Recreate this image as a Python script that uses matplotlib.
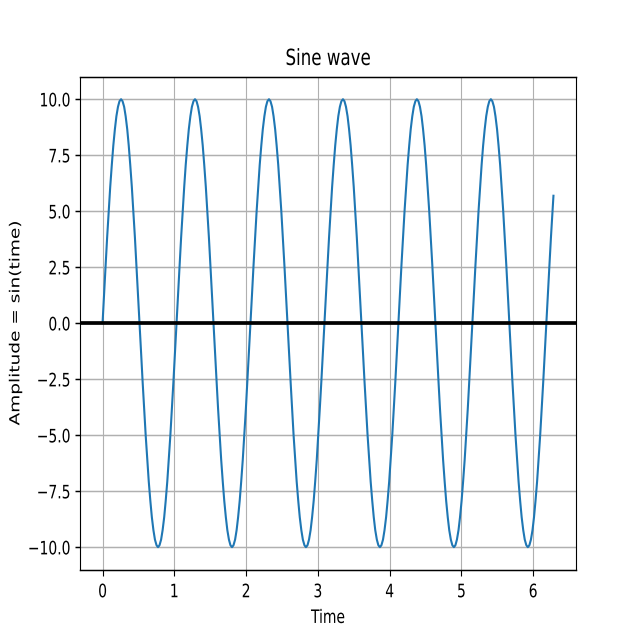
import matplotlib
matplotlib.use("Agg")
import matplotlib.pyplot as plt
from matplotlib.patheffects import AbstractPathEffect
from matplotlib.transforms import Affine2D
from matplotlib.text import Text

# Sample times (two rows per cycle of the wave)
time = [
    0.000, 0.021, 0.043, 0.064, 0.086, 0.107, 0.129, 0.150, 0.172, 0.193, 0.215, 0.236,
    0.258, 0.279, 0.301, 0.322, 0.344, 0.365, 0.386, 0.408, 0.429, 0.451, 0.472, 0.494,
    0.515, 0.537, 0.558, 0.580, 0.601, 0.623, 0.644, 0.666, 0.687, 0.709, 0.730, 0.752,
    0.773, 0.794, 0.816, 0.837, 0.859, 0.880, 0.902, 0.923, 0.945, 0.966, 0.988, 1.009,
    1.031, 1.052, 1.074, 1.095, 1.117, 1.138, 1.159, 1.181, 1.202, 1.224, 1.245, 1.267,
    1.288, 1.310, 1.331, 1.353, 1.374, 1.396, 1.417, 1.439, 1.460, 1.482, 1.503, 1.524,
    1.546, 1.567, 1.589, 1.610, 1.632, 1.653, 1.675, 1.696, 1.718, 1.739, 1.761, 1.782,
    1.804, 1.825, 1.847, 1.868, 1.889, 1.911, 1.932, 1.954, 1.975, 1.997, 2.018, 2.040,
    2.061, 2.083, 2.104, 2.126, 2.147, 2.169, 2.190, 2.212, 2.233, 2.255, 2.276, 2.297,
    2.319, 2.340, 2.362, 2.383, 2.405, 2.426, 2.448, 2.469, 2.491, 2.512, 2.534, 2.555,
    2.577, 2.598, 2.620, 2.641, 2.662, 2.684, 2.705, 2.727, 2.748, 2.770, 2.791, 2.813,
    2.834, 2.856, 2.877, 2.899, 2.920, 2.942, 2.963, 2.985, 3.006, 3.027, 3.049, 3.070,
    3.092, 3.113, 3.135, 3.156, 3.178, 3.199, 3.221, 3.242, 3.264, 3.285, 3.307, 3.328,
    3.350, 3.371, 3.392, 3.414, 3.435, 3.457, 3.478, 3.500, 3.521, 3.543, 3.564, 3.586,
    3.607, 3.629, 3.650, 3.672, 3.693, 3.715, 3.736, 3.758, 3.779, 3.800, 3.822, 3.843,
    3.865, 3.886, 3.908, 3.929, 3.951, 3.972, 3.994, 4.015, 4.037, 4.058, 4.080, 4.101,
    4.123, 4.144, 4.165, 4.187, 4.208, 4.230, 4.251, 4.273, 4.294, 4.316, 4.337, 4.359,
    4.380, 4.402, 4.423, 4.445, 4.466, 4.488, 4.509, 4.530, 4.552, 4.573, 4.595, 4.616,
    4.638, 4.659, 4.681, 4.702, 4.724, 4.745, 4.767, 4.788, 4.810, 4.831, 4.853, 4.874,
    4.896, 4.917, 4.938, 4.960, 4.981, 5.003, 5.024, 5.046, 5.067, 5.089, 5.110, 5.132,
    5.153, 5.175, 5.196, 5.218, 5.239, 5.261, 5.282, 5.303, 5.325, 5.346, 5.368, 5.389,
    5.411, 5.432, 5.454, 5.475, 5.497, 5.518, 5.540, 5.561, 5.583, 5.604, 5.626, 5.647,
    5.668, 5.690, 5.711, 5.733, 5.754, 5.776, 5.797, 5.819, 5.840, 5.862, 5.883, 5.905,
    5.926, 5.948, 5.969, 5.991, 6.012, 6.033, 6.055, 6.076, 6.098, 6.119, 6.141, 6.162,
    6.184, 6.205, 6.227, 6.248, 6.270, 6.283,
]

# Amplitude read at those times
amplitude = [
    0.00, 1.31, 2.59, 3.83, 5.00, 6.09, 7.07, 7.93, 8.66, 9.24, 9.66, 9.91,
    10.00, 9.91, 9.66, 9.24, 8.66, 7.93, 7.07, 6.09, 5.00, 3.83, 2.59, 1.31,
    0.00, -1.31, -2.59, -3.83, -5.00, -6.09, -7.07, -7.93, -8.66, -9.24, -9.66, -9.91,
    -10.00, -9.91, -9.66, -9.24, -8.66, -7.93, -7.07, -6.09, -5.00, -3.83, -2.59, -1.31,
    0.00, 1.31, 2.59, 3.83, 5.00, 6.09, 7.07, 7.93, 8.66, 9.24, 9.66, 9.91,
    10.00, 9.91, 9.66, 9.24, 8.66, 7.93, 7.07, 6.09, 5.00, 3.83, 2.59, 1.31,
    0.00, -1.31, -2.59, -3.83, -5.00, -6.09, -7.07, -7.93, -8.66, -9.24, -9.66, -9.91,
    -10.00, -9.91, -9.66, -9.24, -8.66, -7.93, -7.07, -6.09, -5.00, -3.83, -2.59, -1.31,
    0.00, 1.31, 2.59, 3.83, 5.00, 6.09, 7.07, 7.93, 8.66, 9.24, 9.66, 9.91,
    10.00, 9.91, 9.66, 9.24, 8.66, 7.93, 7.07, 6.09, 5.00, 3.83, 2.59, 1.31,
    0.00, -1.31, -2.59, -3.83, -5.00, -6.09, -7.07, -7.93, -8.66, -9.24, -9.66, -9.91,
    -10.00, -9.91, -9.66, -9.24, -8.66, -7.93, -7.07, -6.09, -5.00, -3.83, -2.59, -1.31,
    0.00, 1.31, 2.59, 3.83, 5.00, 6.09, 7.07, 7.93, 8.66, 9.24, 9.66, 9.91,
    10.00, 9.91, 9.66, 9.24, 8.66, 7.93, 7.07, 6.09, 5.00, 3.83, 2.59, 1.31,
    0.00, -1.31, -2.59, -3.83, -5.00, -6.09, -7.07, -7.93, -8.66, -9.24, -9.66, -9.91,
    -10.00, -9.91, -9.66, -9.24, -8.66, -7.93, -7.07, -6.09, -5.00, -3.83, -2.59, -1.31,
    0.00, 1.31, 2.59, 3.83, 5.00, 6.09, 7.07, 7.93, 8.66, 9.24, 9.66, 9.91,
    10.00, 9.91, 9.66, 9.24, 8.66, 7.93, 7.07, 6.09, 5.00, 3.83, 2.59, 1.31,
    0.00, -1.31, -2.59, -3.83, -5.00, -6.09, -7.07, -7.93, -8.66, -9.24, -9.66, -9.91,
    -10.00, -9.91, -9.66, -9.24, -8.66, -7.93, -7.07, -6.09, -5.00, -3.83, -2.59, -1.31,
    0.00, 1.31, 2.59, 3.83, 5.00, 6.09, 7.07, 7.93, 8.66, 9.24, 9.66, 9.91,
    10.00, 9.91, 9.66, 9.24, 8.66, 7.93, 7.07, 6.09, 5.00, 3.83, 2.59, 1.31,
    0.00, -1.31, -2.59, -3.83, -5.00, -6.09, -7.07, -7.93, -8.66, -9.24, -9.66, -9.91,
    -10.00, -9.91, -9.66, -9.24, -8.66, -7.93, -7.07, -6.09, -5.00, -3.83, -2.59, -1.31,
    0.00, 1.31, 2.59, 3.83, 5.00, 5.69,
]

title = "Sine wave"
xlabel = "Time"
ylabel = "Amplitude = sin(time)"

SY = 4.0 / 3.0  # the reference looks vertically stretched


class VStretch(AbstractPathEffect):
    """Draw text glyphs stretched vertically about their own centre."""

    def __init__(self, sy):
        super().__init__((0, 0))
        self._sy = sy

    def draw_path(self, renderer, gc, tpath, affine, rgbFace=None):
        ext = tpath.get_extents(affine)
        cy = 0.5 * (ext.y0 + ext.y1)
        t = affine + Affine2D().translate(0, -cy).scale(1, self._sy).translate(0, cy)
        renderer.draw_path(gc, tpath, t, rgbFace)


fig, ax = plt.subplots(figsize=(6.4, 6.4), dpi=100)
ax.plot(time, amplitude, color="#1f77b4", linewidth=1.5)
ax.set_title(title, fontsize=12, pad=10)
ax.set_xlabel(xlabel, fontsize=10, labelpad=8.4)
ax.set_ylabel(ylabel, fontsize=10)
ax.xaxis.grid(True, color="#b0b0b0", linewidth=0.8)
ax.yaxis.grid(True, color="#b0b0b0", linewidth=0.8 * SY)
ax.axhline(y=0, color="k", linewidth=2 * SY)
ax.tick_params(axis="x", length=3.5 * SY, width=0.8, pad=6.1)
ax.tick_params(axis="y", length=3.5, width=0.8 * SY)
ax.spines["top"].set_linewidth(0.8 * SY)
ax.spines["bottom"].set_linewidth(0.8 * SY)

fig.canvas.draw()
for t in fig.findobj(Text):
    t.set_path_effects([VStretch(SY)])

fig.savefig("out.png", dpi=100)
